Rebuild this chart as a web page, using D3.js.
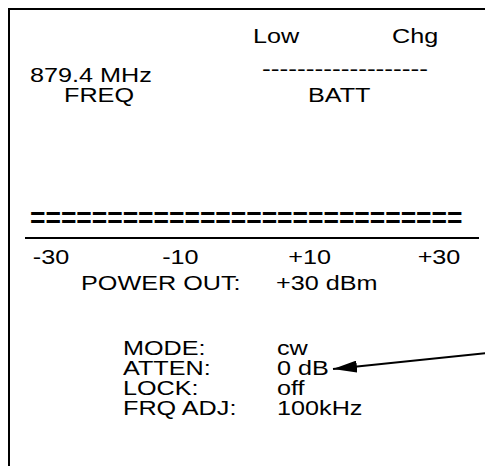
<!DOCTYPE html>
<html>
<head>
<meta charset="utf-8">
<script src="https://cdn.jsdelivr.net/npm/d3@7"></script>
<style>
  body { margin: 0; background: #fff; }
  text { font-family: "Liberation Sans", Arial, sans-serif; fill: #000; }
</style>
</head>
<body>
<div id="panel"></div>
<script>
var W = 485, H = 466
    fs = 21
    sx = 1.2   // glyphs are wider than tall in the original

// readings on the display
var freqValue = "879.4 MHz"
    freqLabel = "FREQ"
    battEnds = ["Low", "Chg"]
    battBar = "-------------------"
    battLabel = "BATT"
    meterBar = "============================"
    meterTicks = [-30, -10, 10, 30]
    powerLabel = "POWER OUT:"
    powerValue = "+30 dBm"
    statusLabels = ["MODE:", "ATTEN:", "LOCK:", "FRQ ADJ:"]
    statusValues = ["cw", "0 dB", "off", "100kHz"]
    arrowRow = 1   // arrow points at ATTEN value

var svg = d3.select("#panel").append("svg")
    .attr("width", W)
    .attr("height", H)

function txt(s, x, y, bold, k, size) {
    return svg.append("text")
        .attr("transform", "translate(" + x + "," + y + ") scale(" + (k || sx) + ",1)")
        .style("font-size", (size || fs) + "px")
        .style("font-weight", bold ? "bold" : "normal")
        .text(s)
}

// frame (top and left edges only, the rest is cut off)
svg.append("path")
    .attr("d", "M9," + H + "V9H" + W)
    .attr("fill", "none")
    .attr("stroke", "#000")
    .attr("stroke-width", 2)

// header
var battX = d3.scalePoint().domain(battEnds).range([253, 392])
svg.selectAll("text.batt")
    .data(battEnds)
    .enter()
    .append("text")
        .attr("class", "batt")
        .attr("transform", function(d) { return "translate(" + battX(d) + ",43) scale(" + sx + ",1)" })
        .style("font-size", fs + "px")
        .text(function(d) { return d })

txt(freqValue, 30, 82)
txt(battBar, 262, 76, false, 1.25)
txt(freqLabel, 64, 102)
txt(battLabel, 308, 102)

// power meter
txt(meterBar, 30, 227, true, 0.98, 27)

var x = d3.scaleLinear()
    .domain([-30, 30])
    .range([51, 439])

svg.append("line")
    .attr("x1", 25)
    .attr("x2", 479)
    .attr("y1", 238)
    .attr("y2", 238)
    .attr("stroke", "#000")
    .attr("stroke-width", 2)

svg.selectAll("text.tick")
    .data(meterTicks)
    .enter()
    .append("text")
        .attr("class", "tick")
        .attr("transform", function(d) { return "translate(" + x(d) + ",264) scale(" + sx + ",1)" })
        .attr("text-anchor", "middle")
        .style("font-size", fs + "px")
        .text(function(d) { return d > 0 ? "+" + d : d })

txt(powerLabel, 81, 290)
txt(powerValue, 276, 290)

// status block
var rowY = d3.scalePoint()
    .domain(statusLabels)
    .range([355, 415])

statusLabels.forEach(function(d, i) {
    txt(d, 123, rowY(d))
    txt(statusValues[i], 277, rowY(d))
})

// pointer arrow
svg.append("defs").append("marker")
    .attr("id", "head")
    .attr("viewBox", "0 0 10 10")
    .attr("preserveAspectRatio", "none")
    .attr("refX", 10)
    .attr("refY", 5)
    .attr("markerWidth", 24)
    .attr("markerHeight", 12)
    .attr("markerUnits", "userSpaceOnUse")
    .attr("orient", "auto")
    .append("path")
        .attr("d", "M0,0L10,5L0,10Z")
        .attr("fill", "#000")

var ay = rowY(statusLabels[arrowRow]) - 6
svg.append("line")
    .attr("x1", W + 2)
    .attr("y1", ay - 16)
    .attr("x2", 333)
    .attr("y2", ay)
    .attr("stroke", "#000")
    .attr("stroke-width", 2)
    .attr("marker-end", "url(#head)")
</script>
</body>
</html>
